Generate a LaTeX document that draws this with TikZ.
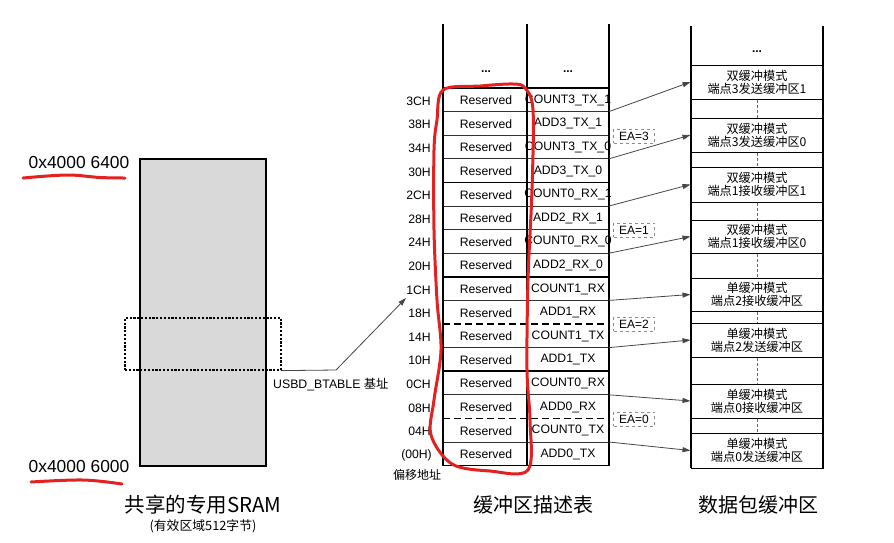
\documentclass[tikz,border=0pt]{standalone}
\usepackage{fontspec}
\setmainfont{Liberation Sans}
\newfontfamily\cjk{Noto Sans CJK SC}
\usetikzlibrary{arrows.meta}
\definecolor{markred}{RGB}{228,32,32}
\definecolor{conngray}{RGB}{70,70,70}
\definecolor{sramgray}{RGB}{217,217,217}
\begin{document}
\begin{tikzpicture}[x=1pt,y=-1pt,
  txt/.style={inner sep=0pt, font=\fontsize{12.2}{14}\selectfont},
  cjktxt/.style={inner sep=0pt, font=\cjk\fontsize{12}{14}\selectfont},
  title/.style={inner sep=0pt, font=\cjk\fontsize{20}{22}\selectfont},
  thickln/.style={line width=1.5pt, black},
  thinln/.style={line width=0.7pt, black!80},
  dashln/.style={line width=1.5pt, black, dash pattern=on 7pt off 4pt},
  buf/.style={draw, line width=1pt, minimum width=132pt, inner sep=0pt, align=center,
              font=\cjk\fontsize{12.2}{13}\selectfont},
  gapln/.style={line width=0.6pt, black!60, dash pattern=on 3pt off 2pt},
  conn/.style={line width=0.8pt, conngray, -{Triangle[length=8pt,width=5pt]}},
  ea/.style={draw=black!45, dashed, line width=0.8pt, fill=white, inner sep=2pt,
             minimum width=41pt, minimum height=14pt, font=\fontsize{12}{13}\selectfont},
  dots/.style={inner sep=0pt, font=\bfseries\fontsize{12}{13}\selectfont},
  redmark/.style={markred, line width=3pt, line cap=round, line join=round}
]
\useasboundingbox (0,0) rectangle (894,542);

% ---------- shared SRAM ----------
\node[draw, line width=1.5pt, fill=sramgray, minimum width=126pt, minimum height=307pt,
      inner sep=0pt] (sram) at (203,312.5) {};
\node[draw, line width=1.2pt, dash pattern=on 2.2pt off 1.6pt, minimum width=156pt,
      minimum height=52pt, inner sep=0pt] (btab) at (203,344) {};
\node[inner sep=0pt, font=\fontsize{17.4}{19}\selectfont] (top) at (79,163) {0x4000 6400};
\node[inner sep=0pt, font=\fontsize{17.4}{19}\selectfont] (bot) at (79,466) {0x4000 6000};
\node[title, font=\cjk\fontsize{20.5}{22}\selectfont] (sramt) at (203,505) {共享的专用SRAM};
\node[cjktxt, font=\cjk\fontsize{12.8}{14}\selectfont] (sramn) at (203,526) {(有效区域512字节)};
\node[inner sep=0pt, anchor=west, font=\fontsize{12.3}{14}\selectfont] (btl) at (273,385) {USBD\_BTABLE {\cjk 基址}};
\coordinate (knee) at (336,370);
\coordinate (btip) at (406,298);
\draw[conn] (btab.south east) -- (knee) -- (btip);

% ---------- descriptor table ----------
\foreach \lab/\txt [count=\i from 0] in {3CH/COUNT3\_TX\_1, 38H/ADD3\_TX\_1, 34H/COUNT3\_TX\_0,
  30H/ADD3\_TX\_0, 2CH/COUNT0\_RX\_1, 28H/ADD2\_RX\_1, 24H/COUNT0\_RX\_0, 20H/ADD2\_RX\_0,
  1CH/COUNT1\_RX, 18H/ADD1\_RX, 14H/COUNT1\_TX, 10H/ADD1\_TX, 0CH/COUNT0\_RX, 08H/ADD0\_RX,
  04H/COUNT0\_TX}{
  \node[txt] (r\i) at (486,100.3+23.6*\i) {Reserved};
  \node[txt] (n\i) at (568,100.3+23.6*\i) {\txt};
  \node[txt, anchor=east] (a\i) at (431,101+23.6*\i) {\lab};
}
\node[txt] (r15) at (486,454.3) {Reserved};
\node[txt] (n15) at (568,454.3) {ADD0\_TX};
\node[txt, anchor=east] (a15) at (432,455) {(00H)};
\node[cjktxt] (offs) at (417,475) {偏移地址};
\node[dots] (dl) at (486,72) {...};
\node[dots] (dr) at (568,72) {...};
\node[title] (desct) at (533,505) {缓冲区描述表};

\foreach \k in {1,2,3,5,6,7,9,11,13,15}{
  \draw[thinln] (443,88+23.6*\k) -- (609,88+23.6*\k);
}
\foreach \k in {0,4,8,12,16}{
  \draw[thickln] (443,88+23.6*\k) -- (609,88+23.6*\k);
}
\draw[dashln] (443,324) -- (609,324);
\draw[dashln] (443,418.4) -- (609,418.4);
\foreach \xx in {443,527,609}{
  \draw[thickln] (\xx,24) -- (\xx,466.4);
}

% ---------- packet buffers ----------
\node[buf, minimum height=34pt] (b1) at (757,82)    {双缓冲模式\\端点3发送缓冲区1};
\node[buf, minimum height=34pt] (b2) at (757,135)   {双缓冲模式\\端点3发送缓冲区0};
\node[buf, minimum height=35pt] (b3) at (757,184.5) {双缓冲模式\\端点1接收缓冲区1};
\node[buf, minimum height=33pt] (b4) at (757,236.5) {双缓冲模式\\端点1接收缓冲区0};
\node[buf, minimum height=33pt] (b5) at (757,294.5) {单缓冲模式\\端点2接收缓冲区};
\node[buf, minimum height=34pt] (b6) at (757,340)   {单缓冲模式\\端点2发送缓冲区};
\node[buf, minimum height=34pt] (b7) at (757,401)   {单缓冲模式\\端点0接收缓冲区};
\node[buf, minimum height=35pt] (b8) at (757,450.5) {单缓冲模式\\端点0发送缓冲区};
\node[dots] (dbuf) at (757,52) {...};
\node[title] (buft) at (758,505) {数据包缓冲区};
\foreach \a/\b in {b1/b2,b2/b3,b3/b4,b4/b5,b5/b6,b6/b7,b7/b8}{
  \draw[gapln] (\a.south) -- (\b.north);
}
\draw[thickln] (691,26) -- (691,468);
\draw[thickln] (823,26) -- (823,468);

% ---------- connectors ----------
\foreach \i/\yy in {1/111.6,2/158.8,3/206,4/253.2,5/300.4,6/347.6,7/394.8,8/442}{
  \coordinate (s\i) at (609,\yy);
  \draw[conn] (s\i) -- (b\i.west);
}
\node[ea] (ea3) at (634,136) {EA=3};
\node[ea] (ea1) at (634,230) {EA=1};
\node[ea] (ea2) at (634,324) {EA=2};
\node[ea] (ea0) at (634,419) {EA=0};

% ---------- red hand marks ----------
\draw[redmark] plot[smooth cycle, tension=0.55] coordinates {
  (443,90) (480,86) (513,84) (525,88) (533,110) (532,190) (528,280) (527,370)
  (530,420) (528,470) (490,471) (452,464) (431,435) (434,400) (441,350)
  (437,300) (434,230) (434,150) (437,120)};
\draw[redmark] plot[smooth, tension=0.6] coordinates {(23,178) (67,175) (100,177.5) (125,178)};
\draw[redmark] plot[smooth, tension=0.6] coordinates {(31,482) (83,480) (122,484)};
\end{tikzpicture}
\end{document}
